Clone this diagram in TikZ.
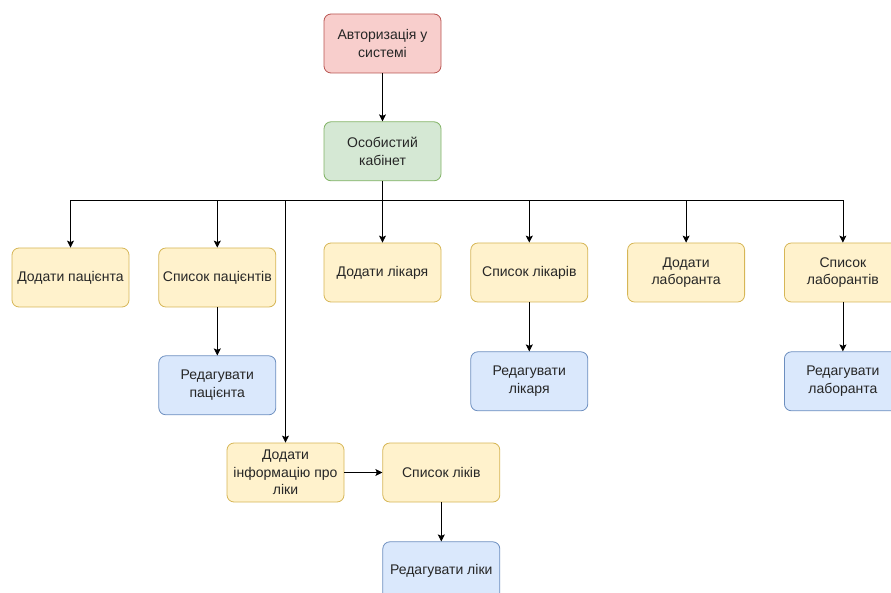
\documentclass[tikz,border=0pt]{standalone}
\usepackage{fontspec}
\setmainfont{Liberation Sans}
\usetikzlibrary{arrows.meta,positioning}

\definecolor{redfill}{HTML}{F8CECC}
\definecolor{redline}{HTML}{B85450}
\definecolor{greenfill}{HTML}{D5E8D4}
\definecolor{greenline}{HTML}{82B366}
\definecolor{yellowfill}{HTML}{FFF2CC}
\definecolor{yellowline}{HTML}{D6B656}
\definecolor{bluefill}{HTML}{DAE8FC}
\definecolor{blueline}{HTML}{6C8EBF}

\begin{document}
\begin{tikzpicture}[
  x=1pt, y=-1pt,
  font=\fontsize{14}{17.5}\selectfont,
  box/.style={draw, rounded corners=7pt, align=center, line width=0.8pt,
    minimum width=117pt, minimum height=59pt, inner sep=1pt, text=black!85},
  redbox/.style={box, fill=redfill, draw=redline},
  greenbox/.style={box, fill=greenfill, draw=greenline},
  yellowbox/.style={box, fill=yellowfill, draw=yellowline},
  bluebox/.style={box, fill=bluefill, draw=blueline},
  arr/.style={-{Stealth[length=7pt,width=7pt,inset=1.5pt]}, line width=0.8pt}
]
\useasboundingbox (0,0) rectangle (891,593);
% top of the tree
\node[redbox] (auth) at (382.5,43.5) {Авторизація у\\системі};
\node[greenbox, below=48pt of auth] (cab) {Особистий\\кабінет};
% second row
\node[yellowbox] (addpat) at (70.5,277.5) {Додати пацієнта};
\node[yellowbox, right=29pt of addpat] (listpat) {Список пацієнтів};
\node[yellowbox] (adddoc) at (382.5,272.5) {Додати лікаря};
\node[yellowbox, right=29pt of adddoc] (listdoc) {Список лікарів};
\node[yellowbox, right=39pt of listdoc] (addlab) {Додати\\лаборанта};
\node[yellowbox, right=39pt of addlab] (listlab) {Список\\лаборантів};
% edit boxes
\node[bluebox, below=48pt of listpat] (editpat) {Редагувати\\пацієнта};
\node[bluebox, below=49pt of listdoc] (editdoc) {Редагувати\\лікаря};
\node[bluebox, below=49pt of listlab] (editlab) {Редагувати\\лаборанта};
% medicines
\node[yellowbox] (addmed) at (285.5,472.5) {Додати\\інформацію про\\ліки};
\node[yellowbox, right=38pt of addmed] (listmed) {Список ліків};
\node[bluebox, below=39pt of listmed] (editmed) {Редагувати ліки};
% bus line below the cabinet
\coordinate (bus) at (382.5,200);
\draw[arr] (auth) -- (cab);
\draw[arr] (cab) -- (adddoc);
\foreach \t in {addpat,listpat,addmed,listdoc,addlab,listlab}
  \draw[arr] (cab.south) |- (bus -| \t) -- (\t.north);
\draw[arr] (listpat) -- (editpat);
\draw[arr] (listdoc) -- (editdoc);
\draw[arr] (listlab) -- (editlab);
\draw[arr] (addmed) -- (listmed);
\draw[arr] (listmed) -- (editmed);
\end{tikzpicture}
\end{document}
